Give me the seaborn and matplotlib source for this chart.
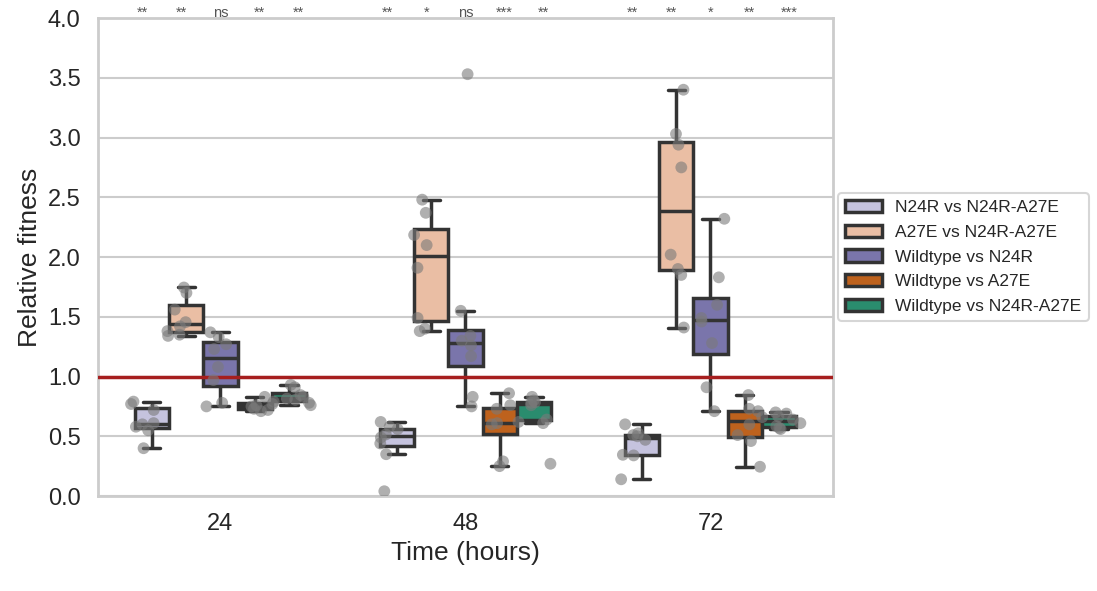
import numpy as np
import pandas as pd
import matplotlib
matplotlib.use("Agg")
import matplotlib.pyplot as plt
import seaborn as sns

# ---------------- data ----------------
times = ["24", "48", "72"]
comparisons = ["N24R vs N24R-A27E", "A27E vs N24R-A27E", "Wildtype vs N24R",
               "Wildtype vs A27E", "Wildtype vs N24R-A27E"]
colors = ["#c5c3de", "#eabea4", "#7a75ab", "#be621d", "#2a8c6e"]

t24_n24r = [0.40, 0.55, 0.58, 0.60, 0.61, 0.72, 0.77, 0.79]
t24_a27e = [1.34, 1.35, 1.38, 1.42, 1.455, 1.56, 1.70, 1.745]
t24_wt_n24r = [0.75, 0.78, 0.97, 1.08, 1.23, 1.27, 1.33, 1.37]
t24_wt_a27e = [0.71, 0.72, 0.73, 0.75, 0.76, 0.77, 0.79, 0.83]
t24_wt_dbl = [0.76, 0.78, 0.805, 0.815, 0.83, 0.845, 0.91, 0.93]

t48_n24r = [0.04, 0.35, 0.44, 0.49, 0.515, 0.56, 0.58, 0.62]
t48_a27e = [1.38, 1.40, 1.49, 1.91, 2.10, 2.185, 2.37, 2.48]
t48_wt_n24r = [0.75, 0.83, 1.17, 1.26, 1.30, 1.34, 1.55, 3.53]
t48_wt_a27e = [0.25, 0.29, 0.60, 0.61, 0.62, 0.73, 0.76, 0.86]
t48_wt_dbl = [0.27, 0.61, 0.64, 0.76, 0.78, 0.785, 0.80, 0.83]

t72_n24r = [0.14, 0.34, 0.345, 0.47, 0.50, 0.51, 0.525, 0.60]
t72_a27e = [1.41, 1.85, 1.90, 2.02, 2.75, 2.94, 3.03, 3.40]
t72_wt_n24r = [0.71, 0.91, 1.28, 1.46, 1.49, 1.60, 1.83, 2.32]
t72_wt_a27e = [0.245, 0.46, 0.51, 0.60, 0.66, 0.71, 0.73, 0.845]
t72_wt_dbl = [0.56, 0.57, 0.585, 0.61, 0.64, 0.665, 0.69, 0.70]

sig_24 = ["**", "**", "ns", "**", "**"]
sig_48 = ["**", "*", "ns", "***", "**"]
sig_72 = ["**", "**", "*", "**", "***"]

groups = {
    "24": [t24_n24r, t24_a27e, t24_wt_n24r, t24_wt_a27e, t24_wt_dbl],
    "48": [t48_n24r, t48_a27e, t48_wt_n24r, t48_wt_a27e, t48_wt_dbl],
    "72": [t72_n24r, t72_a27e, t72_wt_n24r, t72_wt_a27e, t72_wt_dbl],
}
sigs = {"24": sig_24, "48": sig_48, "72": sig_72}

rows = []
for t in times:
    for comp, vals in zip(comparisons, groups[t]):
        for v in vals:
            rows.append({"Time": t, "Comparison": comp, "Fitness": v})
df = pd.DataFrame(rows)

# ---------------- style ----------------
sns.set_theme(style="whitegrid", context="talk")
plt.rcParams["font.family"] = ["Liberation Sans", "DejaVu Sans"]
plt.rcParams["xtick.labelsize"] = 17
plt.rcParams["ytick.labelsize"] = 17
plt.rcParams["axes.labelsize"] = 19

fig = plt.figure(figsize=(10.97, 5.91), dpi=100)
ax = fig.add_axes([0.0893, 0.1607, 0.6700, 0.8088])

sns.boxplot(data=df, x="Time", y="Fitness", hue="Comparison", order=times,
            hue_order=comparisons, palette=colors, saturation=1, width=0.7,
            showfliers=False, linecolor="#333333", linewidth=2.5, ax=ax)

np.random.seed(3)
sns.stripplot(data=df, x="Time", y="Fitness", hue="Comparison", order=times,
              hue_order=comparisons, palette=["#7a7a7a"] * 5, dodge=True,
              jitter=0.3, size=8.5, alpha=0.6, linewidth=0, legend=False,
              zorder=4, ax=ax)

ax.axhline(1.0, color="#a61e1e", linewidth=2.5, zorder=3)

# significance labels above each dodged position
n = len(comparisons)
for i, t in enumerate(times):
    for j, s in enumerate(sigs[t]):
        xpos = i + (j - (n - 1) / 2) * 0.8 / n
        ax.text(xpos, 3.983, s, ha="center", va="bottom", fontsize=10.5,
                color="#555555", clip_on=False)

ax.set_ylim(0, 4)
ax.set_xlim(-0.5, 2.5)
ax.set_yticks(np.arange(0, 4.01, 0.5))
ax.set_xlabel("Time (hours)")
ax.set_ylabel("Relative fitness")
for sp in ax.spines.values():
    sp.set_color("#cccccc")
    sp.set_linewidth(2)

handles, labels = ax.get_legend_handles_labels()
ax.legend(handles[:n], labels[:n], loc="center left", bbox_to_anchor=(1.0, 0.5),
          fontsize=12.5, frameon=True, borderaxespad=0.3, labelspacing=0.55,
          borderpad=0.4, handlelength=2.1, handletextpad=0.8)

fig.savefig("out.png", dpi=100)
